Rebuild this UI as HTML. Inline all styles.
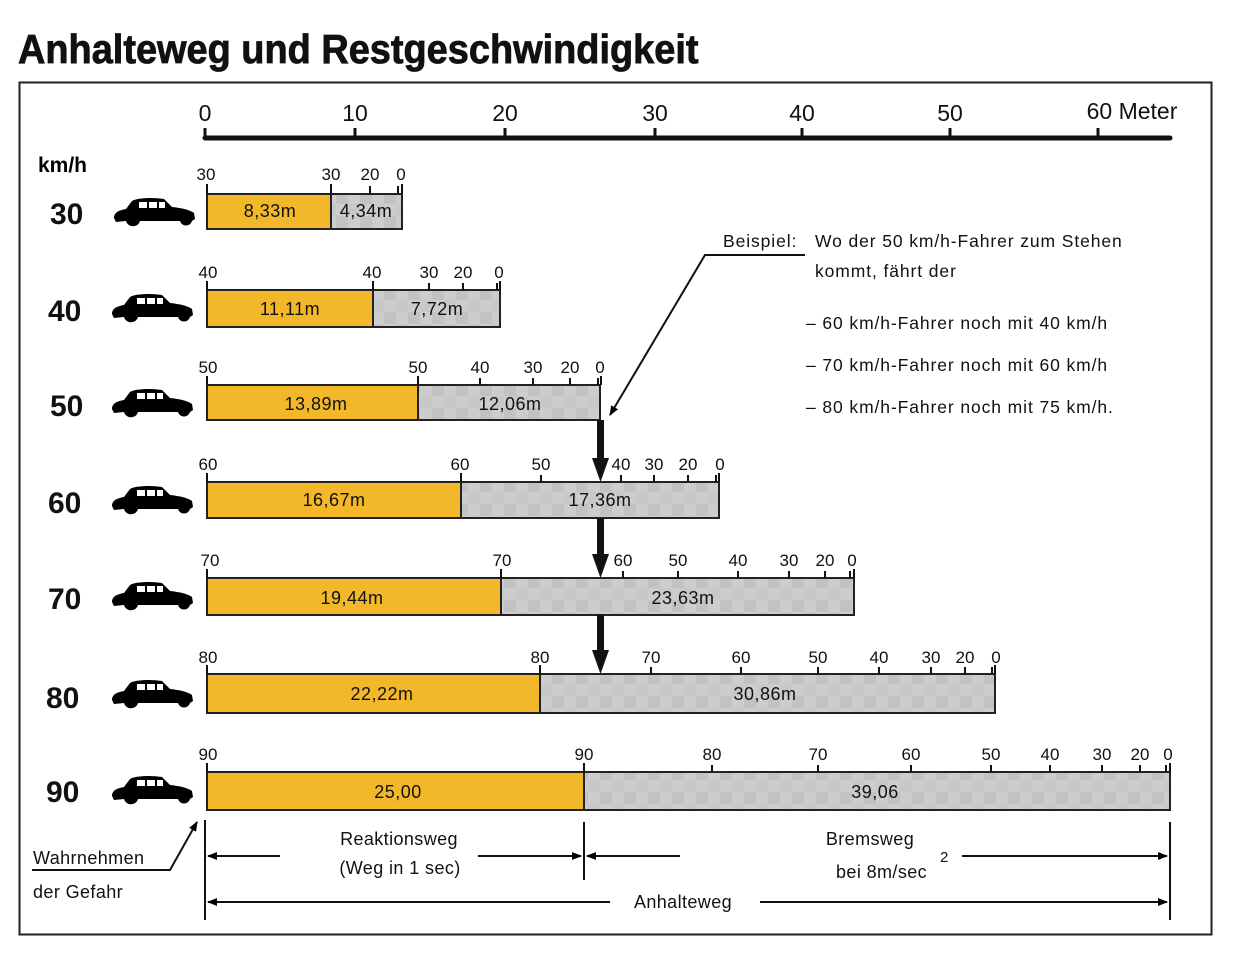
<!DOCTYPE html>
<html><head><meta charset="utf-8"><style>
body{margin:0;background:#fff;}
svg{display:block;font-family:"Liberation Sans",sans-serif;}
</style></head><body>
<svg width="1233" height="972" viewBox="0 0 1233 972">
<defs>
<pattern id="chk" width="24" height="24" patternUnits="userSpaceOnUse">
<rect width="24" height="24" fill="#cdcdcd"/><rect width="12" height="12" fill="#c2c2c2"/><rect x="12" y="12" width="12" height="12" fill="#c8c8c8"/>
</pattern>
<symbol id="car" viewBox="0 0 84 34">
<path d="M2,22 C2,16 8,14 14,13 L20,5 C24,2 40,1 52,3 L60,11 C70,12 78,14 82,17 L83,23 L80,25 C78,31 70,31 68,25 L28,25 C26,32 16,32 14,25 L4,26 Z" fill="#000"/>
<rect x="27" y="6" width="8" height="6" fill="#fff"/><rect x="37" y="6" width="8" height="6" fill="#fff"/><rect x="47" y="6" width="6" height="6" fill="#fff"/>
</symbol>
<marker id="ah" markerWidth="10" markerHeight="8" refX="9" refY="4" orient="auto" markerUnits="userSpaceOnUse"><path d="M0,0 L10,4 L0,8 Z"/></marker>
</defs>
<text x="18" y="63" font-size="41" font-weight="bold" transform="scale(0.925,1)" style="transform-origin:18px 63px" fill="#111" stroke="#111" stroke-width="0.8">Anhalteweg und Restgeschwindigkeit</text>
<rect x="19.5" y="82.5" width="1192" height="852" fill="none" stroke="#222" stroke-width="2"/>
<line x1="205" y1="138" x2="1170" y2="138" stroke="#111" stroke-width="5" stroke-linecap="round"/>
<g font-size="23" fill="#111" text-anchor="middle">
<text x="205" y="121">0</text><text x="355" y="121">10</text><text x="505" y="121">20</text><text x="655" y="121">30</text><text x="802" y="121">40</text><text x="950" y="121">50</text><text x="1132" y="119">60 Meter</text>
</g>
<g stroke="#111" stroke-width="3">
<line x1="205" y1="128" x2="205" y2="138"/><line x1="355" y1="128" x2="355" y2="138"/><line x1="505" y1="128" x2="505" y2="138"/><line x1="655" y1="128" x2="655" y2="138"/><line x1="802" y1="128" x2="802" y2="138"/><line x1="950" y1="128" x2="950" y2="138"/><line x1="1098" y1="128" x2="1098" y2="138"/>
</g>
<text x="38" y="172" font-size="21" font-weight="bold">km/h</text>
<g font-size="30" font-weight="bold" fill="#111">
<text x="50" y="224">30</text><text x="48" y="321">40</text><text x="50" y="416">50</text><text x="48" y="513">60</text><text x="48" y="609">70</text><text x="46" y="708">80</text><text x="46" y="802">90</text>
</g>
<g>
<use href="#car" x="112" y="196" width="84" height="34"/>
<use href="#car" x="110" y="292" width="84" height="34"/>
<use href="#car" x="110" y="387" width="84" height="34"/>
<use href="#car" x="110" y="484" width="84" height="34"/>
<use href="#car" x="110" y="580" width="84" height="34"/>
<use href="#car" x="110" y="678" width="84" height="34"/>
<use href="#car" x="110" y="774" width="84" height="34"/>
</g>
<g stroke="#222" stroke-width="2">
<rect x="207" y="194" width="124" height="35" fill="#f2b829"/><rect x="331" y="194" width="71" height="35" fill="url(#chk)"/>
<rect x="207" y="290" width="166" height="37" fill="#f2b829"/><rect x="373" y="290" width="127" height="37" fill="url(#chk)"/>
<rect x="207" y="385" width="211" height="35" fill="#f2b829"/><rect x="418" y="385" width="182" height="35" fill="url(#chk)"/>
<rect x="207" y="482" width="254" height="36" fill="#f2b829"/><rect x="461" y="482" width="258" height="36" fill="url(#chk)"/>
<rect x="207" y="578" width="294" height="37" fill="#f2b829"/><rect x="501" y="578" width="353" height="37" fill="url(#chk)"/>
<rect x="207" y="674" width="333" height="39" fill="#f2b829"/><rect x="540" y="674" width="455" height="39" fill="url(#chk)"/>
<rect x="207" y="772" width="377" height="38" fill="#f2b829"/><rect x="584" y="772" width="586" height="38" fill="url(#chk)"/>
</g>
<g font-size="18" fill="#111" text-anchor="middle" letter-spacing="0.5">
<text x="270" y="217">8,33m</text><text x="366" y="217">4,34m</text>
<text x="290" y="315">11,11m</text><text x="437" y="315">7,72m</text>
<text x="316" y="410">13,89m</text><text x="510" y="410">12,06m</text>
<text x="334" y="506">16,67m</text><text x="600" y="506">17,36m</text>
<text x="352" y="604">19,44m</text><text x="683" y="604">23,63m</text>
<text x="382" y="700">22,22m</text><text x="765" y="700">30,86m</text>
<text x="398" y="798">25,00</text><text x="875" y="798">39,06</text>
</g>
<g font-size="17" fill="#111" text-anchor="middle">
<text x="206" y="180">30</text><text x="331" y="180">30</text><text x="370" y="180">20</text><text x="401" y="180">0</text>
<text x="208" y="278">40</text><text x="372" y="278">40</text><text x="429" y="278">30</text><text x="463" y="278">20</text><text x="499" y="278">0</text>
<text x="208" y="373">50</text><text x="418" y="373">50</text><text x="480" y="373">40</text><text x="533" y="373">30</text><text x="570" y="373">20</text><text x="600" y="373">0</text>
<text x="208" y="470">60</text><text x="460" y="470">60</text><text x="541" y="470">50</text><text x="621" y="470">40</text><text x="654" y="470">30</text><text x="688" y="470">20</text><text x="720" y="470">0</text>
<text x="210" y="566">70</text><text x="502" y="566">70</text><text x="623" y="566">60</text><text x="678" y="566">50</text><text x="738" y="566">40</text><text x="789" y="566">30</text><text x="825" y="566">20</text><text x="852" y="566">0</text>
<text x="208" y="663">80</text><text x="540" y="663">80</text><text x="651" y="663">70</text><text x="741" y="663">60</text><text x="818" y="663">50</text><text x="879" y="663">40</text><text x="931" y="663">30</text><text x="965" y="663">20</text><text x="996" y="663">0</text>
<text x="208" y="760">90</text><text x="584" y="760">90</text><text x="712" y="760">80</text><text x="818" y="760">70</text><text x="911" y="760">60</text><text x="991" y="760">50</text><text x="1050" y="760">40</text><text x="1102" y="760">30</text><text x="1140" y="760">20</text><text x="1168" y="760">0</text>
</g>
<g stroke="#111" stroke-width="2">
<path d="M207,184v10M331,184v10M370,186v8M398,186v8M402,184v10"/>
<path d="M207,281v9M373,281v9M429,283v7M463,283v7M497,283v7M500,281v9"/>
<path d="M207,376v9M418,376v9M480,378v7M533,378v7M570,378v7M598,378v7M601,376v9"/>
<path d="M207,473v9M461,473v9M541,475v7M621,475v7M654,475v7M688,475v7M716,475v7M719,473v9"/>
<path d="M207,569v9M501,569v9M623,571v7M678,571v7M738,571v7M789,571v7M825,571v7M850,571v7M854,569v9"/>
<path d="M207,665v9M540,665v9M651,667v7M741,667v7M818,667v7M879,667v7M931,667v7M965,667v7M992,667v7M995,665v9"/>
<path d="M207,763v9M584,763v9M712,765v7M818,765v7M911,765v7M991,765v7M1050,765v7M1102,765v7M1140,765v7M1166,765v7M1170,763v9"/>
</g>
<g fill="#111">
<rect x="597" y="420" width="7" height="42"/><path d="M592,458 L609,458 L600.5,482 Z"/>
<rect x="597" y="518" width="7" height="40"/><path d="M592,554 L609,554 L600.5,578 Z"/>
<rect x="597" y="615" width="7" height="39"/><path d="M592,650 L609,650 L600.5,674 Z"/>
</g>
<polyline points="805,255 705,255 610,415" fill="none" stroke="#111" stroke-width="2" marker-end="url(#ah)"/>
<g font-size="17.5" fill="#111" letter-spacing="0.9">
<text x="723" y="247">Beispiel:</text><text x="815" y="247">Wo der 50 km/h-Fahrer zum Stehen</text>
<text x="815" y="277">kommt, fährt der</text>
<text x="806" y="329">– 60 km/h-Fahrer noch mit 40 km/h</text>
<text x="806" y="371">– 70 km/h-Fahrer noch mit 60 km/h</text>
<text x="806" y="413">– 80 km/h-Fahrer noch mit 75 km/h.</text>
</g>
<g stroke="#111" stroke-width="2" fill="none">
<line x1="205" y1="820" x2="205" y2="920"/><line x1="584" y1="822" x2="584" y2="880"/><line x1="1170" y1="822" x2="1170" y2="920"/>
<line x1="280" y1="856" x2="208" y2="856" marker-end="url(#ah)"/>
<line x1="478" y1="856" x2="581" y2="856" marker-end="url(#ah)"/>
<line x1="680" y1="856" x2="587" y2="856" marker-end="url(#ah)"/>
<line x1="962" y1="856" x2="1167" y2="856" marker-end="url(#ah)"/>
<line x1="610" y1="902" x2="208" y2="902" marker-end="url(#ah)"/>
<line x1="760" y1="902" x2="1167" y2="902" marker-end="url(#ah)"/>
<polyline points="32,870 170,870 197,822" marker-end="url(#ah)"/>
</g>
<g font-size="18" fill="#111" letter-spacing="0.4">
<text x="399" y="845" text-anchor="middle">Reaktionsweg</text>
<text x="400" y="874" text-anchor="middle">(Weg in 1 sec)</text>
<text x="870" y="845" text-anchor="middle">Bremsweg</text>
<text x="836" y="878">bei 8m/sec</text><text x="940" y="862" font-size="15">2</text>
<text x="683" y="908" text-anchor="middle">Anhalteweg</text>
<text x="33" y="864">Wahrnehmen</text>
<text x="33" y="898">der Gefahr</text>
</g>
</svg>
</body></html>
